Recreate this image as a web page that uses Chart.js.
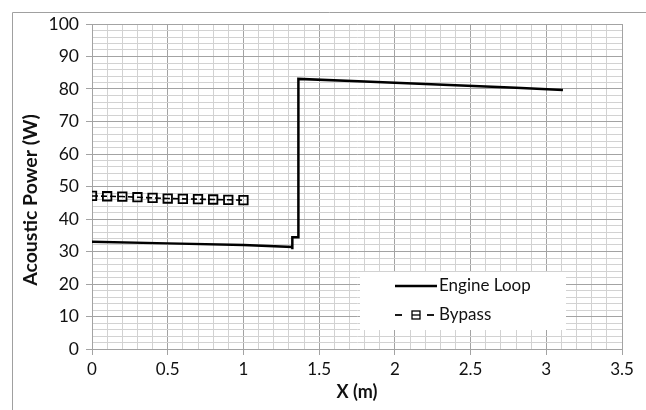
<!DOCTYPE html>
<html>
<head>
<meta charset="utf-8">
<script src="https://cdn.jsdelivr.net/npm/chart.js@4"></script>
<style>
html,body{margin:0;padding:0;background:#fff;}
#wrap{position:relative;width:646px;height:410px;}
</style>
</head>
<body>
<div id="wrap"><canvas id="c" width="646" height="410"></canvas></div>
<script>
// ---- data ----
const engineX = [0, 0.5, 1.0, 1.323, 1.323, 1.323, 1.363, 1.363, 1.8, 2.36, 2.8, 3.11];
const engineY = [33.0, 32.5, 32.0, 31.4, 30.7, 34.4, 34.4, 83.1, 82.3, 81.2, 80.4, 79.7];
const bypassX = [0, 0.1, 0.2, 0.3, 0.4, 0.5, 0.6, 0.7, 0.8, 0.9, 1.0];
const bypassY = [47.1, 47.0, 46.9, 46.7, 46.5, 46.3, 46.2, 46.1, 46.0, 45.9, 45.8];
const seriesNames = ['Engine Loop', 'Bypass'];
const xTitle = 'X (m)';
const yTitle = 'Acoustic Power (W)';
const xMajor = 0.5, xMinor = 0.1, xMin = 0, xMax = 3.5;
const yMajor = 10, yMinor = 2, yMin = 0, yMax = 100;

const FONT = 'Lato, "Open Sans", sans-serif';
const MAJOR_C = '#a3a3a3', MINOR_C = '#d2d2d2', TEXT_C = '#111';

const toPts = (xs, ys) => xs.map((x, i) => ({x: x, y: ys[i]}));
const isMult = (v, m) => Math.abs(v / m - Math.round(v / m)) < 1e-6;

const framePlugin = {
  id: 'frame',
  beforeDraw(chart) {
    const ctx = chart.ctx;
    ctx.save();
    ctx.strokeStyle = '#a0a0a0';
    ctx.lineWidth = 1;
    ctx.beginPath();
    ctx.moveTo(12.5, 410); ctx.lineTo(12.5, 12.5); ctx.lineTo(646, 12.5);
    ctx.stroke();
    ctx.restore();
  },
  afterDraw(chart) {
    const ctx = chart.ctx;
    const ca = chart.chartArea;
    ctx.save();
    // axis titles
    ctx.fillStyle = TEXT_C;
    ctx.font = 'bold 18px ' + FONT;
    ctx.textAlign = 'center';
    ctx.textBaseline = 'middle';
    ctx.fillText(xTitle, (ca.left + ca.right) / 2, 392);
    ctx.save();
    ctx.translate(31, 200);
    ctx.rotate(-Math.PI / 2);
    ctx.font = 'bold 19.5px ' + FONT;
    ctx.fillText(yTitle, 0, 0);
    ctx.restore();
    // legend box
    ctx.fillStyle = '#fff';
    ctx.fillRect(360, 272, 206, 58);
    ctx.strokeStyle = '#000';
    ctx.lineWidth = 2.5;
    ctx.beginPath(); ctx.moveTo(395, 286); ctx.lineTo(437, 286); ctx.stroke();
    ctx.lineWidth = 1.8;
    ctx.beginPath(); ctx.moveTo(395, 315); ctx.lineTo(402, 315); ctx.stroke();
    ctx.beginPath(); ctx.moveTo(427, 315); ctx.lineTo(434, 315); ctx.stroke();
    ctx.lineWidth = 1.3;
    ctx.beginPath(); ctx.moveTo(412, 315); ctx.lineTo(420, 315); ctx.stroke();
    ctx.strokeRect(412, 311, 8, 8);
    ctx.fillStyle = TEXT_C;
    ctx.font = '17px ' + FONT;
    ctx.textAlign = 'left';
    ctx.fillText(seriesNames[0], 439, 286);
    ctx.fillText(seriesNames[1], 439, 315);
    ctx.restore();
  }
};

new Chart(document.getElementById('c'), {
  type: 'scatter',
  data: {
    datasets: [
      {
        label: seriesNames[0],
        data: toPts(engineX, engineY),
        showLine: true,
        borderColor: '#000',
        borderWidth: 2.5,
        pointRadius: 0,
        tension: 0,
        borderJoinStyle: 'miter'
      },
      {
        label: seriesNames[1],
        data: toPts(bypassX, bypassY),
        showLine: true,
        borderColor: '#000',
        borderWidth: 1.6,
        borderDash: [6, 3],
        pointStyle: 'rect',
        pointRadius: 6,
        pointBorderWidth: 1.8,
        pointBorderColor: '#000',
        pointBackgroundColor: 'rgba(255,255,255,0)',
        tension: 0
      }
    ]
  },
  options: {
    responsive: false,
    animation: false,
    layout: {padding: {top: 24, right: 24, left: 0, bottom: 0}},
    plugins: {legend: {display: false}, tooltip: {enabled: false}},
    scales: {
      x: {
        type: 'linear', min: xMin, max: xMax,
        afterFit(s) { s.height = 61; },
        ticks: {
          stepSize: xMinor, autoSkip: false, maxRotation: 0, minRotation: 0,
          padding: 4, color: TEXT_C, font: {family: FONT, size: 17},
          callback: v => isMult(v, xMajor) ? String(Math.round(v / xMajor) * xMajor) : ''
        },
        grid: {
          color: c => isMult(c.tick.value, xMajor) ? MAJOR_C : MINOR_C,
          tickColor: c => isMult(c.tick.value, xMajor) ? MAJOR_C : 'rgba(0,0,0,0)',
          tickLength: 6, lineWidth: 1
        },
        border: {display: true, color: MAJOR_C, width: 1}
      },
      y: {
        type: 'linear', min: yMin, max: yMax,
        afterFit(s) { s.width = 92; },
        ticks: {
          stepSize: yMinor, autoSkip: false,
          padding: 7, color: TEXT_C, font: {family: FONT, size: 17.5},
          callback: v => isMult(v, yMajor) ? String(Math.round(v)) : ''
        },
        grid: {
          color: c => isMult(c.tick.value, yMajor) ? MAJOR_C : MINOR_C,
          tickColor: c => isMult(c.tick.value, yMajor) ? MAJOR_C : 'rgba(0,0,0,0)',
          tickLength: 6, lineWidth: 1
        },
        border: {display: true, color: MAJOR_C, width: 1}
      }
    }
  },
  plugins: [framePlugin]
});
</script>
</body>
</html>
